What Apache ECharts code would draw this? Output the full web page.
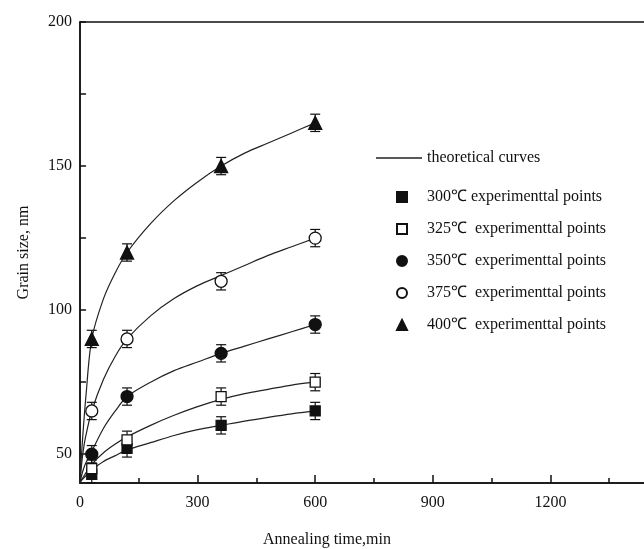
<!DOCTYPE html>
<html>
<head>
<meta charset="utf-8">
<script src="https://cdn.jsdelivr.net/npm/echarts@6/dist/echarts.min.js"></script>
<style>
  html, body { margin: 0; padding: 0; background: #fff; }
  #chart { width: 644px; height: 549px; }
</style>
</head>
<body>
<div id="chart"></div>
<script>
// measured points (min, nm)
const times = [30, 120, 360, 600]
const d300 = [43, 52, 60, 65]
const d325 = [45, 55, 70, 75]
const d350 = [50, 70, 85, 95]
const d375 = [65, 90, 110, 125]
const d400 = [90, 120, 150, 165]
const errBar = [3, 3, 3, 3]

// theoretical curves
const curveT = [0, 3, 8, 15, 30, 60, 90, 120, 180, 240, 300, 360, 420, 480, 540, 600]
const c300 = [40, 40.7, 41.5, 42.5, 44.5, 47.5, 49.5, 51.5, 54, 56.5, 58.5, 60, 61.5, 62.8, 64, 65]
const c325 = [40, 41, 42, 43.5, 46.5, 50.5, 53.5, 56, 60, 63.5, 66.5, 69, 71, 72.5, 74, 75]
const c350 = [40, 42, 44.5, 47, 51, 59, 65, 70, 75, 79, 82, 85, 87.5, 90, 92.5, 95]
const c375 = [40, 45, 51, 56.5, 65, 76, 84, 90, 98, 104, 108.5, 112, 115.5, 119, 122, 125]
const c400 = [40, 48, 58, 70, 90, 104, 113, 120, 130, 138, 144.5, 150, 154.5, 158, 161.5, 165]

const xLabels = [0, 300, 600, 900, 1200, 1500]
const yLabels = [50, 100, 150, 200]
const yTicks = [50, 75, 100, 125, 150, 175, 200]

const serif = "'Liberation Serif', 'Times New Roman', serif"
const ink = '#111'

const names = [
    '300℃ experimenttal points',
    '325℃  experimenttal points',
    '350℃  experimenttal points',
    '375℃  experimenttal points',
    '400℃  experimenttal points'
]
const pointSets = [d300, d325, d350, d375, d400]
const curveSets = [c300, c325, c350, c375, c400]
const symbols = [
    { symbol: 'rect', fill: ink, size: 10 },
    { symbol: 'rect', fill: '#fff', size: 10 },
    { symbol: 'circle', fill: ink, size: 12 },
    { symbol: 'circle', fill: '#fff', size: 12 },
    { symbol: 'triangle', fill: ink, size: 13 }
]

function pairs(xs, ys) {
    return xs.map((x, i) => [x, ys[i]])
}

function errorItem(params, api) {
    const x = api.value(0)
    const y = api.value(1)
    const e = api.value(2)
    const top = api.coord([x, y + e])
    const bot = api.coord([x, y - e])
    const w = 5
    const style = { stroke: ink, lineWidth: 1.2 }
    return {
        type: 'group',
        children: [
            { type: 'line', shape: { x1: top[0], y1: top[1], x2: bot[0], y2: bot[1] }, style },
            { type: 'line', shape: { x1: top[0] - w, y1: top[1], x2: top[0] + w, y2: top[1] }, style },
            { type: 'line', shape: { x1: bot[0] - w, y1: bot[1], x2: bot[0] + w, y2: bot[1] }, style }
        ]
    }
}

let series = []

curveSets.forEach((c) => {
    series.push({
        name: 'theoretical curves',
        type: 'line',
        data: pairs(curveT, c),
        showSymbol: false,
        symbol: 'none',
        smooth: 0.3,
        lineStyle: { color: '#222', width: 1.2 },
        itemStyle: { color: '#222' },
        z: 2
    })
})

pointSets.forEach((d) => {
    series.push({
        type: 'custom',
        renderItem: errorItem,
        data: times.map((t, i) => [t, d[i], errBar[i]]),
        z: 3,
        silent: true
    })
})

pointSets.forEach((d, k) => {
    series.push({
        name: names[k],
        type: 'scatter',
        data: pairs(times, d),
        symbol: symbols[k].symbol,
        symbolSize: symbols[k].size,
        itemStyle: { color: symbols[k].fill, borderColor: ink, borderWidth: 1.3, opacity: 1 },
        z: 4
    })
})

const chart = echarts.init(document.getElementById('chart'))
const option = {
    animation: false,
    backgroundColor: '#fff',
    grid: {
        left: 80,
        top: 22,
        right: -24,
        bottom: 66,
        outerBoundsMode: 'none',
        containLabel: false,
        show: true,
        borderColor: ink,
        borderWidth: 1.5,
        backgroundColor: 'transparent'
    },
    legend: [
        {
            data: [{ name: 'theoretical curves', icon: 'rect' }],
            left: 371,
            top: 145,
            itemWidth: 46,
            itemHeight: 1.3,
            itemStyle: { color: '#222' },
            textStyle: { fontFamily: serif, fontSize: 16, color: ink }
        },
        {
            data: names,
            orient: 'vertical',
            left: 391,
            top: 184,
            itemWidth: 10,
            itemHeight: 10,
            itemGap: 16,
            textStyle: { fontFamily: serif, fontSize: 16, color: ink, padding: [0, 0, 0, 15] }
        }
    ],
    xAxis: {
        type: 'value',
        min: 0,
        max: 1500,
        interval: 300,
        name: 'Annealing time,min',
        nameLocation: 'middle',
        nameGap: 49,
        nameTextStyle: { fontFamily: serif, fontSize: 16, color: ink, padding: [0, 94, 0, 0] },
        axisLine: { lineStyle: { color: ink, width: 1.5 } },
        axisTick: { inside: true, length: 8, lineStyle: { color: ink, width: 1.5 } },
        minorTick: { show: true, splitNumber: 2, length: 5, lineStyle: { color: ink, width: 1.5 } },
        axisLabel: {
            customValues: xLabels,
            formatter: (v) => String(v),
            margin: 12,
            fontFamily: serif,
            fontSize: 16,
            color: ink
        },
        splitLine: { show: false }
    },
    yAxis: {
        type: 'value',
        min: 40,
        max: 200,
        name: 'Grain size, nm',
        nameLocation: 'middle',
        nameGap: 48,
        nameTextStyle: { fontFamily: serif, fontSize: 16, color: ink },
        axisLine: { lineStyle: { color: ink, width: 1.5 } },
        axisTick: { inside: true, length: 6, customValues: yTicks, lineStyle: { color: ink, width: 1.5 } },
        axisLabel: {
            customValues: yLabels,
            formatter: (v) => String(v),
            margin: 8,
            fontFamily: serif,
            fontSize: 16,
            color: ink
        },
        splitLine: { show: false }
    },
    series: series
}
chart.setOption(option)
</script>
</body>
</html>
